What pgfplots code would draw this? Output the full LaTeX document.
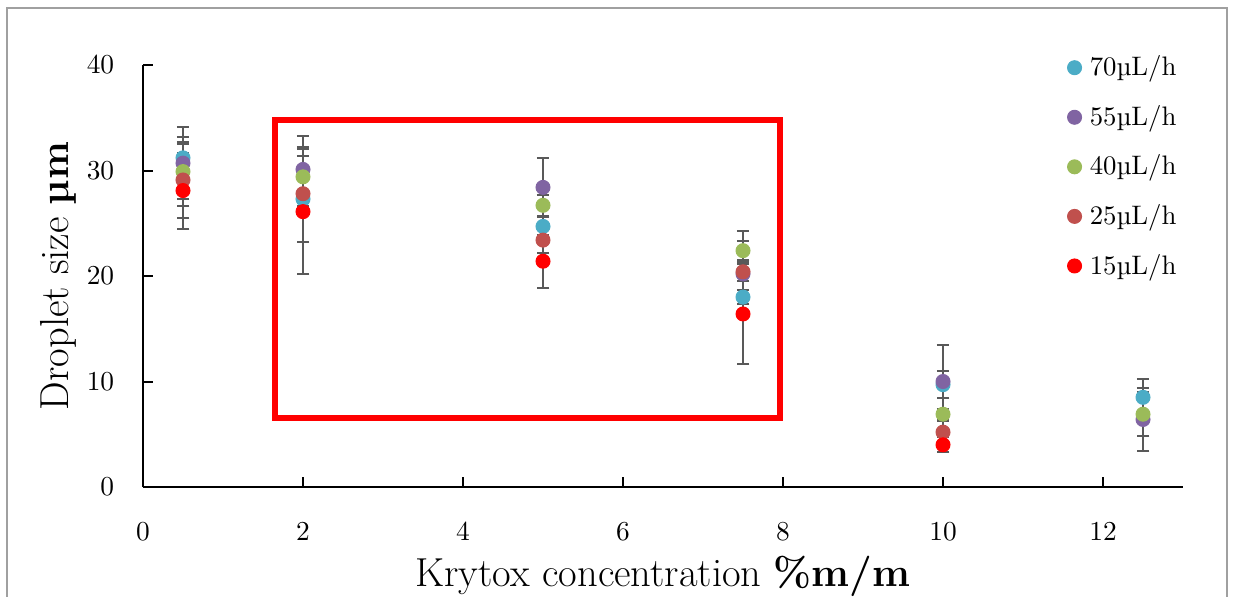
\documentclass[border=0pt]{standalone}
\usepackage{pgfplots}
\pgfplotsset{compat=1.18}
\usepackage{pgfplotstable}
\definecolor{cSeventy}{HTML}{4BACC6}
\definecolor{cFiftyFive}{HTML}{8064A2}
\definecolor{cForty}{HTML}{9BBB59}
\definecolor{cTwentyFive}{HTML}{C0504D}
\definecolor{cFifteen}{HTML}{FF0000}
\definecolor{errc}{HTML}{595959}
\definecolor{framegray}{HTML}{A0A0A0}

\pgfplotstableread{
x y e
0.5 31.2 1.3
2 27.3 4.1
5 24.7 0.9
7.5 18.0 0.7
10 9.7 1.3
12.5 8.5 1.7
}\tSeventy
\pgfplotstableread{
x y e
0.5 30.7 3.4
2 30.1 3.2
5 28.4 2.8
7.5 20.2 4.1
10 10.0 3.5
12.5 6.4 3.0
}\tFiftyFive
\pgfplotstableread{
x y e
0.5 29.9 3.3
2 29.4 2.8
5 26.7 1.0
7.5 22.4 0.9
10 6.9 0.5
12.5 6.9 2.1
}\tForty
\pgfplotstableread{
x y e
0.5 29.1 3.6
2 27.8 1.5
5 23.4 1.2
7.5 20.4 0.9
10 5.2 1.1
}\tTwentyFive
\pgfplotstableread{
x y e
0.5 28.1 3.6
2 26.1 5.9
5 21.4 2.5
7.5 16.4 4.7
10 4.0 0.7
}\tFifteen

\pgfplotsset{
  errplot/.style={forget plot, draw=none, mark=none,
    error bars/.cd, y dir=both, y explicit,
    error bar style={draw=errc, line width=0.8pt, solid},
    error mark options={rotate=90, draw=errc, mark size=2.5pt, line width=0.8pt}},
  dotplot/.style={only marks, mark=*, mark size=2.8pt, color=#1, mark options={draw=#1, fill=#1}},
}

\begin{document}
\begin{tikzpicture}
\path[use as bounding box] (-57.2pt,-43.6pt) rectangle (436.8pt,194.8pt);
\clip (-57.2pt,-43.6pt) rectangle (436.8pt,194.8pt);
\draw[color=framegray, line width=0.8pt] (-54.4pt,-80pt) rectangle (433.6pt,191.6pt);
\begin{axis}[
  at={(0pt,0pt)}, anchor=south west,
  width=416pt, height=168.8pt, scale only axis,
  xmin=0, xmax=13, ymin=0, ymax=40,
  axis lines=left,
  axis line style={-, line width=0.8pt, black},
  xtick={0,2,4,6,8,10,12},
  ytick={0,10,20,30,40},
  tick align=inside,
  major tick length=4pt,
  tick style={line width=0.8pt, black},
  ticklabel style={font=\fontsize{10.6}{12}\selectfont},
  xticklabel style={yshift=-10.8pt},
  yticklabel style={xshift=-8pt},
  xlabel={Krytox concentration \textbf{\%m/m}},
  ylabel={Droplet size \textbf{µm}},
  label style={font=\fontsize{16.2}{19}\selectfont},
  xlabel style={at={(axis description cs:0.5,-0.2346)}, anchor=base},
  ylabel style={at={(axis description cs:-0.0721,0.5)}, anchor=base, rotate=0},
  clip=false,
  legend cell align=left,
  legend image code/.code={\draw[#1] plot coordinates {(0pt,0pt)};},
  legend style={at={(axis description cs:0.8885,1.0230)}, anchor=north west,
    draw=none, fill=none, inner sep=0pt, row sep=10.3pt, column sep=3.3pt,
    font=\fontsize{10.7}{12}\selectfont, nodes={inner sep=0pt}},
]
\addplot[errplot] table[x=x,y=y,y error=e] {\tSeventy};
\addplot[dotplot=cSeventy] table[x=x,y=y] {\tSeventy};
\addlegendentry{70µL/h}
\addplot[errplot] table[x=x,y=y,y error=e] {\tFiftyFive};
\addplot[dotplot=cFiftyFive] table[x=x,y=y] {\tFiftyFive};
\addlegendentry{55µL/h}
\addplot[errplot] table[x=x,y=y,y error=e] {\tForty};
\addplot[dotplot=cForty] table[x=x,y=y] {\tForty};
\addlegendentry{40µL/h}
\addplot[errplot] table[x=x,y=y,y error=e] {\tTwentyFive};
\addplot[dotplot=cTwentyFive] table[x=x,y=y] {\tTwentyFive};
\addlegendentry{25µL/h}
\addplot[errplot] table[x=x,y=y,y error=e] {\tFifteen};
\addplot[dotplot=cFifteen] table[x=x,y=y] {\tFifteen};
\addlegendentry{15µL/h}
\draw[red, line width=2.4pt] (axis cs:1.655,6.54) rectangle (axis cs:7.96,34.8);
\end{axis}
\end{tikzpicture}
\end{document}
